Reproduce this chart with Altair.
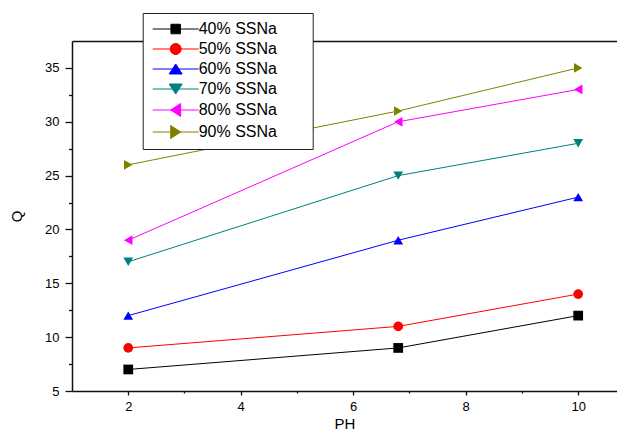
import altair as alt
import pandas as pd

# ---- data ----
series = ["40% SSNa", "50% SSNa", "60% SSNa", "70% SSNa", "80% SSNa", "90% SSNa"]
ph = [2, 6.8, 10]
q40 = [7, 9, 12]
q50 = [9, 11, 14]
q60 = [12, 19, 23]
q70 = [17, 25, 28]
q80 = [19, 30, 33]
q90 = [26, 31, 35]
x_major = [2, 4, 6, 8, 10]
x_minor = [3, 5, 7, 9]
y_major = [5, 10, 15, 20, 25, 30, 35]
y_minor = [7.5, 12.5, 17.5, 22.5, 27.5, 32.5]

# ---- styles ----
colors = ["#000000", "#ff0000", "#0000ff", "#008080", "#ff00ff", "#808000"]
shapes = ["square", "circle", "triangle-up", "triangle-down", "triangle-left", "triangle-right"]
seg = "M-4.6,0H4.6"
pad = "M25.4,0"
legend_paths = [
    seg + "M-0.95,-0.95H0.95V0.95H-0.95Z" + pad,
    seg + "M-1.1,0A1.1,1.1,0,1,0,1.1,0A1.1,1.1,0,1,0,-1.1,0Z" + pad,
    seg + "M0,-1L1.3,1H-1.3Z" + pad,
    seg + "M0,1L1.3,-1H-1.3Z" + pad,
    seg + "M-1,0L1,-1.3V1.3Z" + pad,
    seg + "M1,0L-1,-1.3V1.3Z" + pad,
]
FONT = "Liberation Sans"

rows = []
for s, vals in zip(series, [q40, q50, q60, q70, q80, q90]):
    for x, y in zip(ph, vals):
        rows.append({"series": s, "PH": x, "Q": y})
df = pd.DataFrame(rows)

xscale = alt.Scale(domain=[1, 10.69], nice=False, zero=False)
yscale = alt.Scale(domain=[5, 37.5], nice=False, zero=False)
cscale = alt.Scale(domain=series, range=colors)

lines = alt.Chart(df).mark_line(strokeWidth=1).encode(
    x=alt.X("PH:Q", scale=xscale,
            axis=alt.Axis(orient="bottom", values=x_major, title="PH", grid=False,
                          tickSize=4, labelPadding=5, titlePadding=3)),
    y=alt.Y("Q:Q", scale=yscale,
            axis=alt.Axis(orient="left", values=y_major, title="Q", grid=False,
                          tickSize=7, labelPadding=6, titlePadding=20)),
    color=alt.Color("series:N", scale=cscale, legend=None),
    detail="series:N",
)

points = alt.Chart(df).mark_point(filled=True, opacity=1, size=95).encode(
    x=alt.X("PH:Q", scale=xscale,
            axis=alt.Axis(orient="bottom", values=x_minor, labels=False, domain=False,
                          title=None, grid=False, tickSize=2)),
    y=alt.Y("Q:Q", scale=yscale,
            axis=alt.Axis(orient="left", values=y_minor, labels=False, domain=False,
                          title=None, grid=False, tickSize=3.5)),
    color=alt.Color("series:N", scale=cscale, legend=None),
    shape=alt.Shape("series:N", scale=alt.Scale(domain=series, range=shapes), legend=None),
)

leg = alt.Legend(
    title=None, orient="none", legendX=70.7, legendY=-28,
    fillColor="white", strokeColor="#222222", padding=8,
    symbolSize=100, symbolStrokeWidth=1, symbolOffset=17, labelOffset=15,
    labelFont=FONT, labelFontSize=16, labelColor="black", rowPadding=4, labelLimit=300,
)

legend_layer = alt.Chart(df).transform_filter("false").mark_point(filled=True, opacity=1).encode(
    x=alt.X("PH:Q", scale=xscale,
            axis=alt.Axis(orient="top", labels=False, ticks=False, title=None, grid=False)),
    shape=alt.Shape("series:N", scale=alt.Scale(domain=series, range=legend_paths), legend=leg),
    fill=alt.Fill("series:N", scale=alt.Scale(domain=series, range=colors), legend=leg),
    stroke=alt.Stroke("series:N", scale=alt.Scale(domain=series, range=colors), legend=leg),
)

chart = alt.layer(lines, points, legend_layer).resolve_scale(
    shape="independent", fill="independent", stroke="independent"
).resolve_axis(x="independent", y="independent").properties(
    width=545, height=350,
    autosize=alt.AutoSizeParams(type="none"),
    padding={"left": 64, "top": 33, "right": 0, "bottom": 40},
    background="white",
).configure_view(stroke=None).configure_axis(
    labelFont=FONT, labelFontSize=13, labelColor="black",
    titleFont=FONT, titleFontSize=15, titleFontWeight="normal", titleColor="black",
    domainColor="#111111", tickColor="#111111", domainWidth=1.5, tickWidth=1.3,
)

chart.save("out.html", embed_options={"renderer": "svg", "actions": False})
